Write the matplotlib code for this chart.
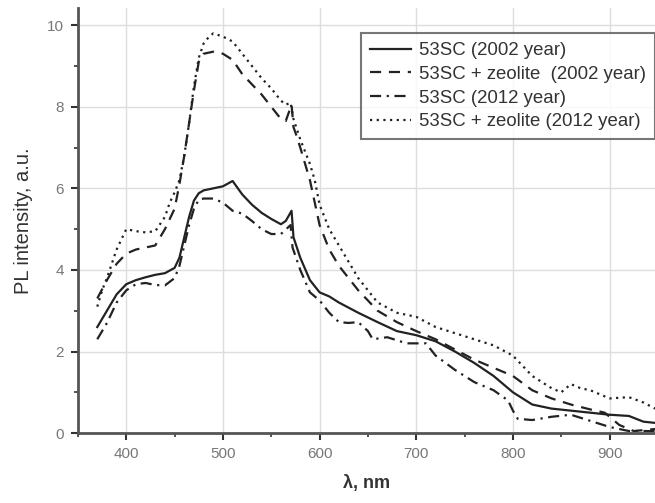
import matplotlib.pyplot as plt
from matplotlib.ticker import MultipleLocator

# 53SC (2002 year) - solid
x_sc02 = [370, 380, 390, 400, 410, 420, 430, 440, 450, 455, 460, 465, 470, 475, 480, 490,
          500, 510, 520, 530, 540, 550, 560, 565, 571, 573, 580, 590, 600, 610, 620, 640,
          660, 680, 700, 720, 740, 760, 780, 800, 820, 840, 860, 880, 900, 920, 935, 947]
y_sc02 = [2.6, 3.0, 3.4, 3.65, 3.75, 3.82, 3.88, 3.92, 4.05, 4.3, 4.8, 5.3, 5.7, 5.88, 5.95, 6.0,
          6.05, 6.18, 5.85, 5.6, 5.4, 5.25, 5.12, 5.2, 5.45, 4.8, 4.3, 3.75, 3.45, 3.35, 3.2, 2.95,
          2.72, 2.5, 2.4, 2.25, 2.0, 1.72, 1.4, 1.0, 0.7, 0.6, 0.55, 0.5, 0.45, 0.42, 0.28, 0.25]

# 53SC + zeolite (2002 year) - dashed
x_zeo02 = [370, 380, 390, 400, 410, 420, 430, 435, 440, 445, 450, 455, 460, 465, 470, 475, 480,
           490, 500, 510, 520, 530, 540, 550, 560, 565, 571, 573, 576, 580, 590, 600, 610, 620,
           630, 640, 660, 680, 700, 720, 740, 760, 780, 800, 820, 840, 860, 880, 895, 910, 925, 947]
y_zeo02 = [3.3, 3.75, 4.15, 4.4, 4.5, 4.55, 4.6, 4.8, 5.0, 5.25, 5.5, 6.1, 6.8, 7.6, 8.4, 9.1, 9.3,
           9.35, 9.3, 9.15, 8.8, 8.55, 8.3, 8.0, 7.7, 7.65, 8.05, 7.5, 7.3, 7.0, 6.2, 5.1, 4.5, 4.1,
           3.8, 3.5, 3.0, 2.72, 2.5, 2.3, 2.05, 1.8, 1.6, 1.4, 1.05, 0.85, 0.7, 0.58, 0.5, 0.2, 0.05, 0.1]

# 53SC (2012 year) - dash-dot
x_sc12 = [370, 380, 390, 400, 410, 420, 430, 440, 450, 455, 460, 465, 470, 475, 480, 490, 500,
          510, 520, 530, 540, 550, 560, 570, 572, 580, 590, 600, 610, 620, 630, 640, 650, 655,
          670, 690, 710, 720, 740, 760, 780, 795, 800, 805, 820, 840, 860, 880, 900, 920, 947]
y_sc12 = [2.3, 2.7, 3.2, 3.5, 3.65, 3.68, 3.63, 3.62, 3.8, 4.1, 4.6, 5.1, 5.5, 5.72, 5.75, 5.75, 5.65,
          5.45, 5.38, 5.2, 5.0, 4.88, 4.88, 5.1, 4.55, 4.0, 3.45, 3.25, 2.95, 2.72, 2.7, 2.72, 2.5, 2.3,
          2.35, 2.2, 2.2, 1.9, 1.55, 1.25, 1.05, 0.8, 0.55, 0.35, 0.32, 0.4, 0.45, 0.3, 0.15, 0.05, 0.05]

# 53SC + zeolite (2012 year) - dotted
x_zeo12 = [370, 375, 380, 390, 400, 410, 420, 430, 440, 445, 450, 455, 460, 465, 470, 475, 480,
           485, 490, 500, 510, 520, 530, 540, 550, 560, 565, 570, 573, 580, 590, 595, 600, 610,
           625, 640, 660, 680, 700, 720, 740, 760, 780, 800, 820, 840, 850, 860, 870, 880, 900,
           920, 935, 947]
y_zeo12 = [3.1, 3.5, 3.8, 4.5, 5.0, 4.95, 4.92, 4.95, 5.3, 5.65, 5.9, 6.2, 6.8, 7.6, 8.5, 9.2, 9.55,
           9.7, 9.8, 9.72, 9.6, 9.3, 9.0, 8.7, 8.45, 8.15, 8.05, 8.1, 7.7, 7.2, 6.6, 6.2, 5.6, 5.0,
           4.4, 3.8, 3.2, 2.95, 2.85, 2.6, 2.45, 2.3, 2.15, 1.9, 1.4, 1.1, 1.0, 1.2, 1.1, 1.05, 0.85,
           0.88, 0.75, 0.6]

plt.rcParams['font.family'] = ['Liberation Sans', 'DejaVu Sans']

fig = plt.figure(figsize=(6.55, 5.03), dpi=100)
ax = fig.add_axes([0.119, 0.139, 0.881, 0.845])

c = '#222222'
ax.plot(x_sc02, y_sc02, color=c, lw=1.6, ls='-', label='53SC (2002 year)')
ax.plot(x_zeo02, y_zeo02, color=c, lw=1.6, ls=(0, (5, 3.5)), label='53SC + zeolite  (2002 year)')
ax.plot(x_sc12, y_sc12, color=c, lw=1.6, ls=(0, (5, 2.5, 1, 2.5)), label='53SC (2012 year)')
ax.plot(x_zeo12, y_zeo12, color=c, lw=1.6, ls=(0, (1, 2)), label='53SC + zeolite (2012 year)')

ax.set_xlim(350, 947)
ax.set_ylim(0, 10.42)
ax.xaxis.set_major_locator(MultipleLocator(100))
ax.xaxis.set_minor_locator(MultipleLocator(50))
ax.yaxis.set_major_locator(MultipleLocator(2))
ax.yaxis.set_minor_locator(MultipleLocator(1))
ax.grid(True, which='major', color='#dddddd', lw=1)
ax.set_axisbelow(True)

for s in ['top', 'right']:
    ax.spines[s].set_visible(False)
for s in ['left', 'bottom']:
    ax.spines[s].set_color('#555555')
    ax.spines[s].set_linewidth(2)

ax.tick_params(which='major', length=5, width=1.5, color='#333333', pad=5,
               labelsize=11, labelcolor='#777777')
ax.tick_params(which='minor', length=3, width=1.2, color='#333333')

ax.set_xlabel('λ, nm', fontsize=13, fontweight='bold', color='#333333', labelpad=10)
ax.set_ylabel('PL intensity, a.u.', fontsize=14.5, color='#333333', labelpad=10)

leg = ax.legend(loc='upper left', bbox_to_anchor=(0.4905, 0.941), fontsize=13.4,
                frameon=True, fancybox=False, handlelength=2.2, handletextpad=0.4,
                labelspacing=0.35, borderaxespad=0, borderpad=0.5)
leg.get_frame().set_edgecolor('#555555')
leg.get_frame().set_linewidth(1.5)
for t in leg.get_texts():
    t.set_color('#333333')

fig.savefig('out.png', dpi=100)
